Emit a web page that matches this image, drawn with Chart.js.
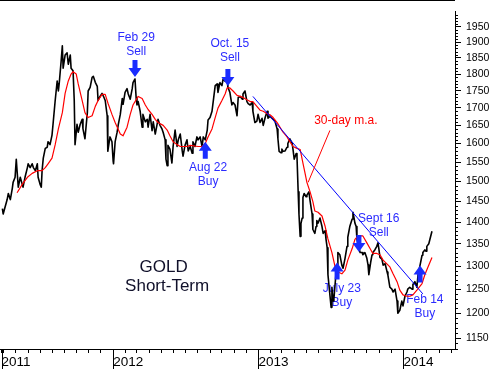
<!DOCTYPE html>
<html lang="en">
<head>
<meta charset="UTF-8">
<title>Gold Short-Term</title>
<script src="https://cdn.jsdelivr.net/npm/chart.js"></script>
<style>
  html, body { margin: 0; padding: 0; background: #fff; }
</style>
</head>
<body>
<canvas id="goldChart" width="491" height="369"></canvas>
<script>
// x values are days counted from 1 Jan 2011
const priceDays = [86,88,98,101,106,111,113,118,121,123,126,131,136,138,143,149,151,156,161,164,169,174,176,181,184,186,189,194,199,201,206,211,214,219,224,227,229,234,237,239,244,249,252,257,259,264,267,269,274,277,282,287,289,294,300,302,307,312,315,320,325,327,332,337,340,345,350,351,352,357,362,365,366,370,375,378,383,388,390,395,400,403,408,413,415,420,423,425,428,433,438,440,446,451,453,458,463,466,471,476,478,483,488,491,496,498,501,503,508,513,516,521,526,529,534,539,541,546,551,554,559,564,566,571,576,579,584,589,592,597,602,604,609,614,617,622,627,629,634,639,642,647,652,654,659,664,667,672,677,680,685,690,692,697,702,705,710,715,717,722,727,730,735,740,743,748,753,755,760,765,768,773,778,780,783,788,790,793,798,803,805,810,816,818,821,826,828,831,833,836,838,841,843,846,851,853,858,861,866,868,873,876,878,881,886,891,894,899,901,904,906,909,914,916,919,921,926,929,931,936,941,944,949,954,956,961,967,969,974,977,979,984,987,992,994,999,1004,1007,1009,1014,1017,1019,1024,1029,1032,1034,1037,1042,1045,1050,1055,1057,1062,1067,1070,1075,1080,1082,1087,1092,1095,1100,1105,1107,1112,1118,1120,1125,1130,1133,1138,1143,1145,1150,1153,1155,1160,1163,1168];
const priceValues = [1433,1420,1455,1470,1455,1483,1498,1511,1558,1528,1486,1511,1493,1486,1511,1536,1546,1536,1546,1536,1528,1546,1511,1493,1486,1528,1561,1587,1590,1605,1597,1623,1658,1721,1779,1749,1770,1840,1888,1818,1859,1866,1830,1859,1818,1810,1721,1597,1653,1631,1653,1667,1640,1613,1686,1749,1760,1790,1793,1775,1763,1721,1733,1742,1735,1721,1677,1597,1579,1618,1605,1553,1546,1605,1631,1653,1681,1727,1710,1745,1756,1740,1725,1756,1774,1785,1727,1708,1718,1690,1645,1681,1660,1667,1645,1681,1635,1660,1626,1655,1667,1650,1640,1630,1610,1558,1541,1595,1585,1548,1592,1637,1592,1610,1626,1580,1566,1595,1610,1580,1592,1574,1605,1592,1618,1610,1618,1592,1618,1610,1637,1665,1672,1690,1718,1765,1770,1745,1774,1765,1785,1778,1785,1760,1745,1708,1715,1708,1677,1730,1733,1725,1740,1749,1718,1712,1708,1715,1690,1658,1662,1681,1658,1670,1650,1673,1690,1670,1675,1670,1667,1660,1640,1613,1579,1575,1585,1579,1580,1590,1600,1613,1600,1584,1558,1573,1565,1474,1420,1367,1397,1410,1460,1470,1462,1466,1474,1452,1420,1383,1374,1390,1404,1398,1410,1390,1374,1380,1361,1341,1281,1254,1212,1254,1225,1230,1281,1302,1330,1325,1302,1295,1317,1344,1365,1390,1408,1424,1398,1390,1361,1341,1330,1330,1325,1330,1317,1302,1281,1310,1325,1330,1336,1344,1352,1340,1319,1315,1302,1305,1287,1280,1254,1250,1244,1250,1225,1200,1206,1225,1215,1235,1244,1250,1254,1250,1260,1266,1254,1281,1302,1324,1330,1336,1333,1344,1350,1361,1379];

const maDays = [123,136,149,161,174,186,194,201,211,219,227,237,244,252,259,264,272,277,287,294,302,312,320,327,337,345,352,362,370,383,390,400,408,415,428,438,446,453,463,471,478,491,501,508,516,526,534,551,559,579,589,597,604,614,622,629,639,647,652,659,667,677,692,702,710,717,727,735,743,753,760,768,778,785,793,803,810,818,828,836,843,848,853,861,868,873,881,891,899,906,916,924,931,941,949,956,967,974,982,994,1004,1012,1019,1029,1037,1045,1055,1062,1070,1080,1087,1095,1105,1112,1120,1130,1143,1150,1158,1168];
const maValues = [1472,1493,1511,1521,1528,1528,1536,1546,1561,1597,1640,1686,1742,1779,1800,1807,1800,1770,1721,1686,1672,1677,1704,1721,1739,1739,1713,1681,1658,1626,1621,1645,1681,1708,1733,1727,1708,1695,1681,1667,1658,1650,1637,1621,1605,1597,1592,1592,1595,1592,1592,1600,1618,1640,1672,1699,1721,1740,1758,1758,1749,1736,1730,1723,1718,1718,1704,1693,1690,1683,1680,1672,1658,1645,1631,1618,1605,1592,1587,1584,1548,1523,1498,1474,1450,1427,1424,1415,1390,1361,1330,1298,1287,1283,1291,1313,1339,1360,1368,1368,1352,1339,1328,1328,1325,1313,1304,1298,1283,1266,1248,1238,1235,1235,1238,1248,1262,1281,1298,1319];

const trendDays = [717, 1145];
const trendValues = [1733, 1240];

const pointerDays = [911, 856];
const pointerValues = [1636, 1498];

const yearLabels = ['2011', '2012', '2013', '2014'];
const priceTicks = [1150,1200,1250,1300,1350,1400,1450,1500,1550,1600,1650,1700,1750,1800,1850,1900,1950];

const signalText = [['Feb 29','Sell'], ['Oct. 15','Sell'], ['Aug 22','Buy'], ['July 23','Buy'], ['Sept 16','Sell'], ['Feb 14','Buy']];
const signalDays = [420, 654, 597, 929, 984, 1138];
const signalPrices = [1791, 1764, 1605, 1308, 1331, 1301];
const signalLabelDays = [423, 659, 604, 941, 1034, 1150];
const signalLabelPrices = [1915, 1896, 1535, 1251, 1409, 1228];

const xMin = 80, xMax = 1226;
const firstMark = 84; // where the "2011" label sits

function dayOf(y, m) {
  return (Date.UTC(y, m, 1) - Date.UTC(2011, 0, 1)) / 86400000;
}
const monthTicks = [];
for (let y = 2011; y <= 2014; y++) {
  for (let m = 0; m < 12; m++) {
    const d = dayOf(y, m);
    if (d > xMin && d < xMax) monthTicks.push(d);
  }
}
const yearDays = yearLabels.slice(1).map(s => dayOf(+s, 0));

const toXY = (xs, ys) => xs.map((d, i) => ({ x: d, y: ys[i] }));

Chart.defaults.font.family = '"Liberation Sans", Arial, sans-serif';

const extras = {
  id: 'extras',
  beforeDatasetsDraw(chart) {
    const { ctx, scales: { x, y } } = chart;
    ctx.save();
    ctx.textAlign = 'center';
    ctx.textBaseline = 'middle';
    ctx.fillStyle = '#2b2bff';
    ctx.font = '12px "Liberation Sans", Arial, sans-serif';
    signalText.forEach((lines, i) => {
      const px = x.getPixelForValue(signalLabelDays[i]);
      const py = y.getPixelForValue(signalLabelPrices[i]);
      ctx.fillText(lines[0], px, py);
      ctx.fillText(lines[1], px, py + 14);
    });
    ctx.fillStyle = '#ff0000';
    ctx.fillText('30-day m.a.', x.getPixelForValue(951), y.getPixelForValue(1663));
    ctx.fillStyle = '#10102a';
    ctx.font = '17px "Liberation Sans", Arial, sans-serif';
    ctx.fillText('GOLD', x.getPixelForValue(492), y.getPixelForValue(1298));
    ctx.fillText('Short-Term', x.getPixelForValue(501), y.getPixelForValue(1255));
    ctx.restore();
  },
  afterDatasetsDraw(chart) {
    const { ctx, scales: { x, y } } = chart;
    ctx.save();
    ctx.fillStyle = '#1a2cff';
    signalText.forEach((lines, i) => {
      const px = x.getPixelForValue(signalDays[i]);
      const py = y.getPixelForValue(signalPrices[i]);
      const s = lines[1] === 'Sell' ? -1 : 1;
      ctx.beginPath();
      ctx.moveTo(px, py);
      ctx.lineTo(px - 6.5, py + s * 9);
      ctx.lineTo(px - 2.5, py + s * 9);
      ctx.lineTo(px - 2.5, py + s * 17);
      ctx.lineTo(px + 2.5, py + s * 17);
      ctx.lineTo(px + 2.5, py + s * 9);
      ctx.lineTo(px + 6.5, py + s * 9);
      ctx.closePath();
      ctx.fill();
    });
    ctx.restore();
  },
  afterDraw(chart) {
    const { ctx, chartArea, scales: { x, y } } = chart;
    ctx.save();
    ctx.strokeStyle = '#000';
    ctx.lineWidth = 1;
    ctx.beginPath();
    // top frame
    ctx.moveTo(chartArea.left, 0.5);
    ctx.lineTo(chartArea.right, 0.5);
    // long year ticks
    [firstMark].concat(yearDays).forEach(d => {
      const px = Math.round(x.getPixelForValue(d)) + 0.5;
      ctx.moveTo(px, chartArea.bottom);
      ctx.lineTo(px, chart.height);
    });
    // minor price ticks
    for (let v = 1130; v <= 2000; v += 10) {
      if (v % 50 === 0) continue;
      const py = Math.round(y.getPixelForValue(v)) + 0.5;
      ctx.moveTo(chartArea.right, py);
      ctx.lineTo(chartArea.right + 3, py);
    }
    ctx.stroke();
    ctx.restore();
  }
};

new Chart(document.getElementById('goldChart'), {
  type: 'line',
  data: {
    datasets: [
      { data: toXY(priceDays, priceValues), borderColor: '#000', borderWidth: 1.6, order: 4 },
      { data: toXY(maDays, maValues), borderColor: '#ff0000', borderWidth: 1.2, order: 3 },
      { data: toXY(trendDays, trendValues), borderColor: '#0000ff', borderWidth: 1, order: 2 },
      { data: toXY(pointerDays, pointerValues), borderColor: '#ff0000', borderWidth: 1, order: 1 }
    ]
  },
  options: {
    responsive: false,
    animation: false,
    layout: { padding: 0 },
    elements: {
      point: { radius: 0 },
      line: { tension: 0, borderJoinStyle: 'round', fill: false }
    },
    plugins: { legend: { display: false }, tooltip: { enabled: false } },
    scales: {
      x: {
        type: 'linear',
        min: xMin,
        max: xMax,
        afterBuildTicks: s => { s.ticks = [firstMark].concat(monthTicks).map(v => ({ value: v })); },
        afterFit: s => { s.height = 20; },
        border: { display: true, color: '#000', width: 1 },
        grid: { drawOnChartArea: false, drawTicks: true, tickLength: 4, tickColor: '#000' },
        ticks: {
          autoSkip: false,
          maxRotation: 0,
          align: 'start',
          padding: 1,
          color: '#000',
          font: { size: 13.5 },
          callback: v => {
            if (v === firstMark) return yearLabels[0];
            const k = yearDays.indexOf(v);
            return k >= 0 ? yearLabels[k + 1] : '';
          }
        }
      },
      y: {
        type: 'logarithmic',
        position: 'right',
        min: 1129.4,
        max: 2002,
        bounds: 'data',
        afterBuildTicks: s => { s.ticks = priceTicks.map(v => ({ value: v })); },
        afterFit: s => { s.width = 36; },
        border: { display: true, color: '#000', width: 1 },
        grid: { drawOnChartArea: false, drawTicks: true, tickLength: 6, tickColor: '#000' },
        ticks: {
          autoSkip: false,
          padding: 5,
          color: '#000',
          font: { size: 10.5 },
          callback: v => String(v)
        }
      }
    }
  },
  plugins: [extras]
});
</script>
</body>
</html>
